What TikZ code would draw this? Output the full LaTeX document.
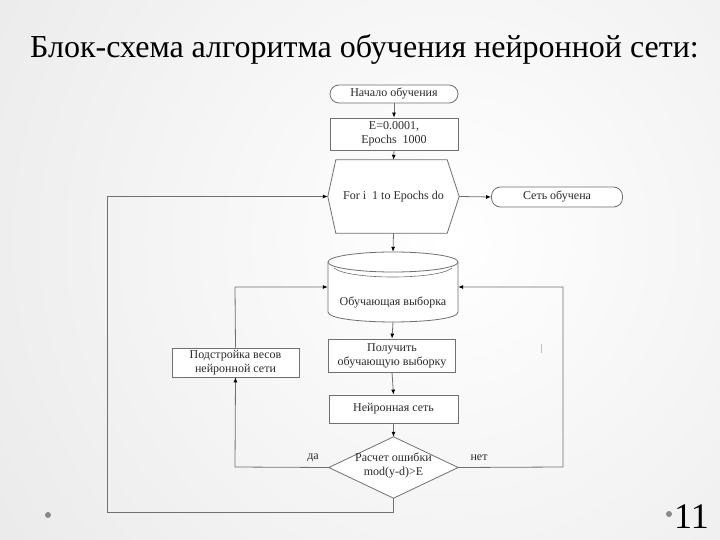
\documentclass[tikz,border=0pt]{standalone}
\usepackage{fontspec}
\setmainfont{Liberation Serif}
\usetikzlibrary{arrows.meta}
\definecolor{lin}{HTML}{707070}
\definecolor{txt}{HTML}{2A2A2A}
\definecolor{bul}{HTML}{8A8A8A}
\begin{document}
\begin{tikzpicture}[x=1pt,y=-1pt,
  conn/.style={draw=lin,line width=0.8pt},
  arr/.style={conn,-{Latex[length=5pt,width=4pt,color=black]}},
  term/.style={draw=lin,line width=0.8pt,fill=white,rounded corners=9pt,inner sep=0pt,font=\fontsize{12}{14}\selectfont,text=txt},
  procbox/.style={draw=lin,line width=0.8pt,fill=white,inner sep=0pt,align=center,font=\fontsize{12}{14}\selectfont,text=txt},
  plain/.style={inner sep=0pt,align=center,font=\fontsize{12}{14}\selectfont,text=txt},
  lbl/.style={inner sep=0pt,font=\fontsize{12}{14}\selectfont,text=txt}]
\useasboundingbox (0,0) rectangle (720,540);
\begin{scope}
  \clip (0,0) rectangle (720,540);
  \shade[inner color=white,outer color=black!17] (450,240) circle (1150);
\end{scope}
% title
\node[anchor=base west,inner sep=0pt,font=\fontsize{32}{36}\selectfont] (title) at (30,58) {Блок-схема алгоритма обучения нейронной сети:};
% bullets and page number
\fill[bul] (48,515) circle (3);
\fill[bul] (669,514) circle (3);
\node[anchor=base west,inner sep=0pt,font=\fontsize{36}{40}\selectfont] (pnum) at (674,528) {11};
% nodes
\node[term,minimum width=128,minimum height=18] (start) at (394,94) {Начало обучения};
\node[procbox,minimum width=128,minimum height=32] (init) at (394,134) {E=0.0001,\\Epochs\ \ 1000};
\node[plain,minimum width=131,minimum height=73] (loop) at (393.5,196.5) {};
\draw[draw=lin,line width=0.8pt,fill=white] (loop.west) -- ([xshift=8]loop.north west) -- ([xshift=-12]loop.north east) -- (loop.east) -- ([xshift=-12]loop.south east) -- ([xshift=8]loop.south west) -- cycle;
\node[plain] at (loop.center) {For i\ \ 1 to Epochs do};
\node[term,minimum width=131,minimum height=20] (done) at (557,197) {Сеть обучена};
% cylinder
\node[plain,minimum width=130,minimum height=70] (data) at (393,287) {};
\draw[draw=lin,line width=0.8pt,fill=white] (328,262) -- (328,312) .. controls (328,325.3) and (458,325.3) .. (458,312) -- (458,262);
\draw[draw=lin,line width=0.8pt,fill=white] (393,262) ellipse [x radius=65,y radius=10];
\draw[draw=lin,line width=0.6pt] (334,268) .. controls (348,280) and (438,280) .. (452,268);
\node[plain] at (393,302) {Обучающая выборка};
\node[procbox,minimum width=127,minimum height=33] (get) at (392,355.5) {Получить\\обучающую выборку};
\node[procbox,minimum width=127,minimum height=29] (adjust) at (235.5,362.5) {Подстройка весов\\нейронной сети};
\node[procbox,minimum width=129,minimum height=28] (net) at (393.5,409) {Нейронная сеть};
\node[plain,minimum width=129,minimum height=61] (dec) at (393.5,467.5) {};
\draw[draw=lin,line width=0.8pt,fill=white] (dec.north) -- (dec.east) -- (dec.south) -- (dec.west) -- cycle;
\node[plain] at (393.5,465.5) {Расчет ошибки\\mod(y-d)>E};
% coordinates
\coordinate (lcorner) at (235,467);
\coordinate (lup) at (235,287);
\coordinate (rcorner) at (563,467);
\coordinate (rup) at (563,287);
\coordinate (bdown) at (393.5,512);
\coordinate (bleft) at (107,512);
\coordinate (bup) at (107,196.5);
% connectors
\draw[arr] (start.south) -- (init.north);
\draw[arr] (init.south) -- (loop.north);
\draw[arr] (loop.east) -- (done.west);
\draw[arr] (loop.south) -- (data.north);
\draw[arr] (data.south) -- (get.north);
\draw[arr] (get.south) -- (net.north);
\draw[arr] (net.south) -- (dec.north);
\draw[arr] (dec.west) -- (lcorner) -- (adjust.south);
\draw[arr] (adjust.north) -- (lup) -- (data.west);
\draw[arr] (dec.east) -- (rcorner) -- (rup) -- (data.east);
\draw[arr] (dec.south) -- (bdown) -- (bleft) -- (bup) -- (loop.west);
\node[lbl] (yes) at (313,458) {да};
\node[lbl] (no) at (479,458) {нет};
\draw[black!25,line width=0.6pt] (541,344) -- (541,353);
\end{tikzpicture}
\end{document}
